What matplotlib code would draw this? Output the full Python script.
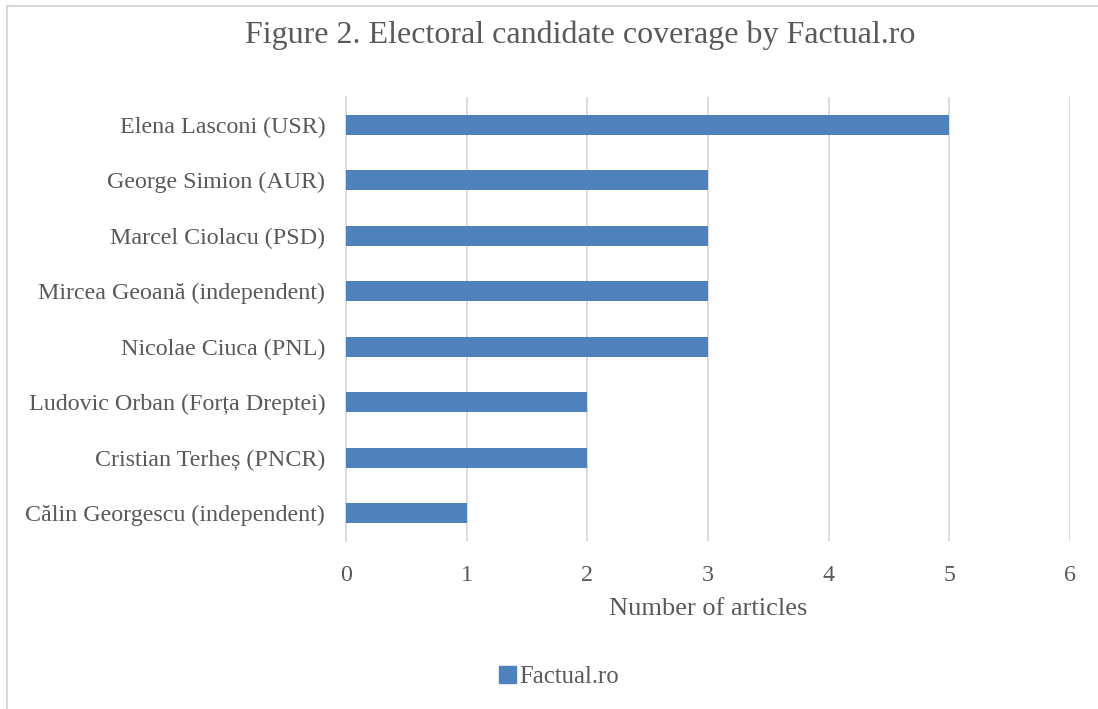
import matplotlib
matplotlib.use("Agg")
import matplotlib.pyplot as plt
from matplotlib.patches import Patch
from matplotlib.lines import Line2D

candidates = [
    "Elena Lasconi (USR)",
    "George Simion (AUR)",
    "Marcel Ciolacu (PSD)",
    "Mircea Geoană (independent)",
    "Nicolae Ciuca (PNL)",
    "Ludovic Orban (Forța Dreptei)",
    "Cristian Terheș (PNCR)",
    "Călin Georgescu (independent)",
]
articles = [5, 3, 3, 3, 3, 2, 2, 1]
x_ticks = [0, 1, 2, 3, 4, 5, 6]

bar_color = "#4F81BD"
text_color = "#595959"
grid_color = "#D9D9D9"

plt.rcParams["font.family"] = ["Liberation Serif", "DejaVu Serif"]

fig = plt.figure(figsize=(10.98, 7.09), dpi=100)
ax = fig.add_axes([346 / 1098, 1 - 541 / 709, (1070 - 346) / 1098, (541 - 97) / 709])

pos = list(range(len(candidates)))
ax.barh(pos, articles, height=0.36, color=bar_color, zorder=3)
ax.set_ylim(len(candidates) - 0.5, -0.5)
ax.set_xlim(0, 6)
ax.set_yticks(pos)
ax.set_yticklabels(candidates)
ax.set_xticks(x_ticks)
ax.tick_params(axis="both", length=0, labelsize=17.3, labelcolor=text_color)
ax.tick_params(axis="y", pad=15)
ax.tick_params(axis="x", pad=17)
ax.grid(axis="x", color=grid_color, linewidth=1.3, zorder=0)
for s in ["top", "right", "bottom"]:
    ax.spines[s].set_visible(False)
ax.spines["left"].set_color(grid_color)
ax.spines["left"].set_linewidth(1.3)
ax.set_xlabel("Number of articles", fontsize=19, color=text_color, labelpad=9)

fig.text(580 / 1098, 1 - 35 / 709, "Figure 2. Electoral candidate coverage by Factual.ro",
         ha="center", va="center", fontsize=23, color=text_color)

leg = fig.legend(handles=[Patch(color=bar_color, label="Factual.ro")],
                 loc="center", bbox_to_anchor=(559 / 1098, 1 - 677 / 709),
                 frameon=False, fontsize=17.8, handlelength=0.7, handleheight=0.7,
                 handletextpad=0.15)
for t in leg.get_texts():
    t.set_color(text_color)

# outer chart border (top and left edges visible)
fig.add_artist(Line2D([7 / 1098, 7 / 1098], [0, 1 - 6 / 709], transform=fig.transFigure,
                      color=grid_color, linewidth=1.5))
fig.add_artist(Line2D([7 / 1098, 1], [1 - 6 / 709, 1 - 6 / 709], transform=fig.transFigure,
                      color=grid_color, linewidth=1.5))

fig.savefig("out.png", dpi=100, facecolor="white")
